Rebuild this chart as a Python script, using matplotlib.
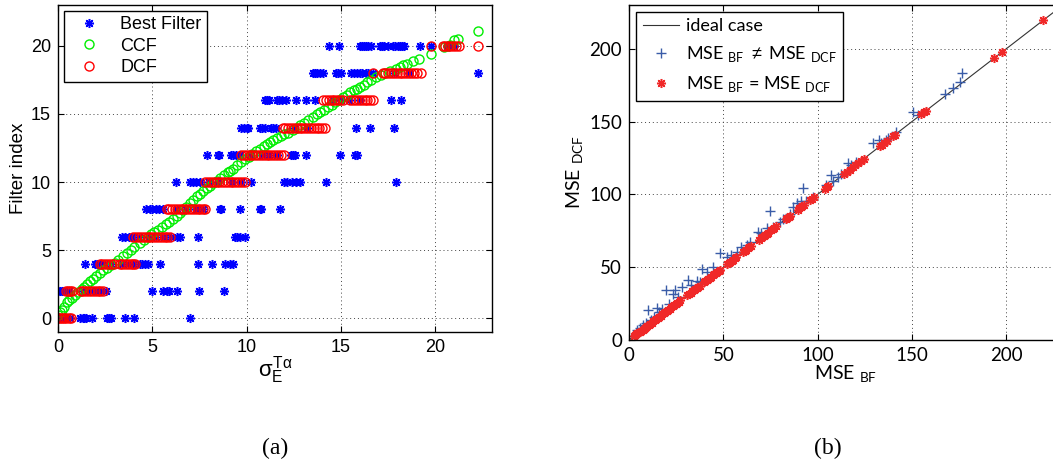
import numpy as np
import matplotlib.pyplot as plt

# ---- panel (a): filter index vs sigma ----
levels = [0, 2, 4, 6, 8, 10, 12, 14, 16, 18, 20]

best_x = {
    0: [0.05, 0.2, 0.35, 0.5, 0.65, 1.16, 1.3, 1.4, 1.5, 1.82, 2.6, 2.7, 2.8, 3.54, 4.02, 6.98],
    2: [0.0, 0.1, 0.2, 0.3, 0.6, 1.3, 1.7, 2.0, 2.3, 2.57, 4.96, 5.57, 5.75, 5.9, 6.33, 7.46, 8.8],
    4: [1.43, 1.96, 2.05, 2.15, 2.22, 2.5, 2.8, 3.4, 3.7, 4.0, 4.34, 4.45, 4.6, 4.78, 5.4,
        7.44, 8.17, 8.84, 9.1, 9.28],
    6: [3.37, 3.55, 3.75, 3.9, 4.3, 4.8, 5.2, 5.6, 6.0, 6.28, 6.46, 7.43, 9.37, 9.5, 9.62, 9.9],
    8: [4.64, 4.85, 5.0, 5.2, 5.35, 5.57, 6.3, 6.8, 7.3, 7.7, 8.57, 8.65, 9.63, 10.69, 10.75, 11.75],
    10: [6.23, 7.02, 7.15, 7.3, 7.51, 8.0, 8.5, 9.2, 9.7, 10.25, 12.0, 12.15, 12.4, 12.6, 12.8,
         14.2, 17.9],
    12: [7.87, 8.48, 8.55, 9.19, 9.3, 9.45, 9.63, 10.2, 10.8, 11.2, 11.6, 12.36, 12.45, 12.54,
         13.12, 14.96, 15.75, 15.85],
    14: [9.72, 9.85, 10.0, 10.07, 10.69, 10.8, 10.95, 11.3, 11.4, 11.57, 12.5, 13.2, 15.77,
         16.54, 17.83],
    16: [10.95, 11.05, 11.2, 11.6, 11.7, 11.85, 12.1, 12.63, 13.12, 13.6, 14.6, 15.0, 15.4,
         16.0, 17.65, 18.18],
    18: [13.51, 13.6, 13.75, 13.9, 14.04, 14.74, 14.85, 15.0, 15.54, 15.7, 15.85, 16.0, 16.1,
         16.3, 16.42, 16.68, 17.8, 18.6, 22.24],
    20: [14.34, 14.89, 15.98, 16.1, 16.2, 16.3, 16.45, 16.6, 17.04, 17.15, 17.3, 17.48, 17.74,
         17.85, 18.0, 18.1, 18.25, 18.36, 19.19, 19.77, 20.6, 20.8, 21.0],
}

dcf_x = {
    0: [0.0, 0.1, 0.2, 0.3, 0.45, 0.6, 0.7],
    2: [0.45, 0.55, 0.65, 0.72, 1.2, 1.35, 1.5, 1.65, 1.8, 1.95, 2.1, 2.25, 2.4],
    4: [2.22, 2.35, 2.5, 2.65, 2.8, 2.95, 3.28, 3.4, 3.55, 3.7, 3.85, 4.0, 4.1],
    6: [4.0, 4.15, 4.3, 4.45, 4.6, 4.75, 4.9, 5.05, 5.2, 5.35, 5.5, 5.65, 5.8, 5.95],
    8: [5.75, 5.9, 6.05, 6.2, 6.35, 6.5, 6.65, 6.8, 6.95, 7.1, 7.25, 7.4, 7.55, 7.7, 7.8],
    10: [7.78, 7.95, 8.1, 8.25, 8.4, 8.55, 8.7, 8.85, 9.0, 9.15, 9.3, 9.45, 9.6, 9.75, 9.9],
    12: [9.72, 9.85, 10.0, 10.15, 10.3, 10.45, 10.6, 10.75, 10.9, 11.05, 11.2, 11.35, 11.5,
         11.65, 11.8, 12.0],
    14: [11.92, 12.05, 12.2, 12.35, 12.5, 12.65, 12.8, 12.95, 13.1, 13.25, 13.4, 13.55, 13.7,
         13.85, 14.0, 14.13],
    16: [14.04, 14.2, 14.35, 14.5, 14.65, 14.8, 14.95, 15.1, 15.5, 15.65, 15.8, 15.95, 16.1,
         16.25, 16.4, 16.55, 16.7],
    18: [16.68, 17.2, 17.35, 17.5, 17.65, 17.8, 17.95, 18.1, 18.25, 18.4, 18.55, 18.7, 18.85,
         19.0, 19.24],
    20: [19.77, 20.39, 20.5, 20.65, 20.8, 20.95, 21.1, 21.27, 22.24],
}

ccf_x = [0.0, 0.1, 0.2, 0.3, 0.46, 0.6, 0.75, 0.9, 1.05, 1.25, 1.4, 1.55, 1.7, 1.85, 2.0,
         2.22, 2.4, 2.6, 2.8, 3.0, 3.2, 3.46, 3.65, 3.85, 4.05, 4.34, 4.55, 4.75, 4.95, 5.1,
         5.3, 5.5, 5.7, 5.9, 6.1, 6.28, 6.45, 6.6, 6.8, 7.0, 7.15, 7.34, 7.5, 7.7, 7.9, 8.05,
         8.22, 8.4, 8.6, 8.8, 9.0, 9.1, 9.28, 9.5, 9.7, 9.9, 10.1, 10.3, 10.5, 10.7, 10.9,
         11.1, 11.25, 11.4, 11.6, 11.8, 12.0, 12.2, 12.45, 12.65, 12.85, 13.05, 13.25, 13.5,
         13.7, 13.9, 14.1, 14.3, 14.5, 14.7, 14.9, 15.1, 15.3, 15.5, 15.7, 15.85, 16.0, 16.2,
         16.4, 16.6, 16.86, 17.1, 17.35, 17.6, 17.9, 18.1, 18.3, 18.5, 18.8, 19.15, 19.77,
         20.48, 20.65, 20.8, 21.0, 21.2, 22.24]
ccf_y = [0.25, 0.45, 0.65, 0.85, 1.17, 1.34, 1.53, 1.71, 1.9, 2.14, 2.33, 2.52, 2.71, 2.89,
         3.08, 3.36, 3.53, 3.72, 3.9, 4.09, 4.3, 4.57, 4.78, 5.0, 5.23, 5.55, 5.76, 5.96, 6.16,
         6.32, 6.52, 6.72, 6.92, 7.11, 7.31, 7.49, 7.72, 7.93, 8.21, 8.48, 8.69, 8.95, 9.13,
         9.35, 9.57, 9.74, 9.93, 10.11, 10.31, 10.52, 10.72, 10.82, 11.0, 11.24, 11.45, 11.67,
         11.88, 12.1, 12.28, 12.46, 12.65, 12.83, 12.96, 13.1, 13.23, 13.37, 13.5, 13.63, 13.8,
         13.99, 14.18, 14.37, 14.56, 14.8, 14.98, 15.15, 15.33, 15.5, 15.69, 15.88, 16.06,
         16.25, 16.42, 16.58, 16.75, 16.87, 17.0, 17.16, 17.33, 17.49, 17.7, 17.84, 17.98,
         18.13, 18.3, 18.43, 18.57, 18.7, 18.9, 19.05, 19.4, 19.9, 20.0, 20.1, 20.4, 20.5, 21.1]

# ---- panel (b): MSE_DCF vs MSE_BF ----
mse_equal = [2.5, 3.2, 3.8, 4.5, 5.2, 5.8, 6.5, 7.2, 7.8, 8.5, 9.2, 9.8, 10.5, 11.2, 12, 12.8,
             13.6, 14.4, 15.2, 16, 16.8, 17.6, 18.4, 19.2, 20, 20.8, 21.6, 22.4, 23.2, 24, 24.8,
             25.6, 26.4, 27.2, 31, 31.8, 32.6, 33.4, 34.2, 35, 35.8, 36.6, 37.4, 39.5, 40.3,
             41.1, 41.9, 42.7, 43.5, 44.3, 45.1, 45.9, 46.7, 47.5, 48.3, 52, 52.8, 53.6, 54.4,
             55.2, 56, 56.8, 60.5, 61.3, 62.1, 62.9, 63.7, 64.5, 69, 69.8, 70.6, 71.4, 72.2, 73,
             73.8, 75.5, 76.3, 77.1, 78, 83, 83.8, 84.6, 85.4, 89.5, 90.3, 91.1, 91.9, 92.7, 96,
             97, 98, 104, 104.8, 105.6, 114, 115.5, 117, 118.5, 120, 121.5, 123, 124.5, 133,
             134.2, 135.4, 136.6, 140, 141, 155, 156.2, 157.4, 193.5, 197.5, 219.5]

ne_bf = [4.5, 6, 7.5, 8.8, 10.2, 11.5, 13, 14.6, 16, 17.5, 19.6, 21, 23.5, 24.4, 26, 27.9, 31.4,
         33, 36, 37.6, 38.5, 41.1, 44.6, 48.2, 51.7, 54.3, 57, 59.6, 62.3, 64, 68.5, 70.2, 72.9,
         74.6, 76.4, 80, 81.7, 85.2, 87, 88.8, 91.4, 92.3, 94, 97.6, 104.6, 107.3, 108.2, 110.8,
         112.6, 116.1, 117.9, 120.5, 129.3, 132.5, 133.8, 136.4, 137.3, 141.7, 150.5, 153.2,
         167.3, 171.7, 175.2, 176.6]
ne_dcf = [7, 8.5, 10, 12, 20.6, 14, 16, 21.7, 19, 21, 34.3, 25, 31.6, 34.3, 29.5, 36.2, 41.2,
          37.8, 40.5, 40, 48.5, 46.9, 50.3, 59.5, 57.2, 58.4, 60.5, 64, 65.2, 67.5, 74.4, 73.2,
          76.7, 88.8, 77.8, 81.2, 83.2, 86.5, 91.5, 93.8, 95.7, 104.1, 95.5, 98.5, 106.4, 113.3,
          109.5, 112.1, 113.8, 121.7, 120, 122, 135, 137.3, 135.5, 137.3, 138.4, 143, 156.8,
          154.5, 168.6, 172.8, 177.3, 183.5]
ideal = [0, 230]

plt.rcParams['font.family'] = ['Liberation Sans', 'DejaVu Sans']
plt.rcParams['mathtext.fontset'] = 'custom'
plt.rcParams['mathtext.rm'] = 'Liberation Sans'
plt.rcParams['mathtext.it'] = 'Liberation Sans'

W, H = 1053, 467
fig = plt.figure(figsize=(W / 100, H / 100), dpi=100)
ax1 = fig.add_axes([58 / W, 1 - 332 / H, 434 / W, 327 / H])
ax2 = fig.add_axes([629 / W, 1 - 340 / H, 434 / W, 335 / H])

star = (8, 2, 0)

# panel (a)
bx = [x for k in levels for x in best_x[k]]
by = [k for k in levels for x in best_x[k]]
dx = [x for k in levels for x in dcf_x[k]]
dy = [k for k in levels for x in dcf_x[k]]
ax1.plot(bx, by, linestyle='none', marker=star, color='#0000ff', markersize=6.5, mew=1.1,
         label='Best Filter')
ax1.plot(ccf_x, ccf_y, linestyle='none', marker='o', mfc='none', mec='#00ee00', markersize=6.5,
         mew=1.0, label='CCF')
ax1.plot(dx, dy, linestyle='none', marker='o', mfc='none', mec='#ff0000', markersize=6.5,
         mew=1.0, label='DCF')
ax1.set_xlim(0, 23)
ax1.set_ylim(-1, 23)
ax1.set_xticks([0, 5, 10, 15, 20])
ax1.set_yticks([0, 5, 10, 15, 20])
ax1.set_xlabel(r'$\sigma_{\rm E}^{\rm T\alpha}$', fontsize=16, labelpad=-1)
ax1.set_ylabel('Filter index', fontsize=13.5, labelpad=3)
leg1 = ax1.legend(loc='upper left', bbox_to_anchor=(0.014, 0.982), borderaxespad=0,
                  fontsize=13, numpoints=1, handlelength=2.2, handletextpad=0.6,
                  labelspacing=0.25, borderpad=0.3, fancybox=False, framealpha=1,
                  edgecolor='k')
leg1.get_frame().set_linewidth(1.0)

# panel (b)
ax2.plot(ideal, ideal, color='#333333', linewidth=0.8, label='ideal case')
ax2.plot(ne_bf, ne_dcf, linestyle='none', marker='+', color='#3a5ca8', markersize=7.5, mew=1.0,
         label=r'MSE $_{\mathregular{BF}}$ $\neq$ MSE $_{\mathregular{DCF}}$')
ax2.plot(mse_equal, mse_equal, linestyle='none', marker=star, color='#f02828', markersize=6.5,
         mew=1.1, label=r'MSE $_{\mathregular{BF}}$ = MSE $_{\mathregular{DCF}}$')
ax2.set_xlim(0, 230)
ax2.set_ylim(0, 230)
ax2.set_xticks([0, 50, 100, 150, 200])
ax2.set_yticks([0, 50, 100, 150, 200])
ax2.set_xlabel(r'MSE $_{\mathregular{BF}}$', fontsize=14, labelpad=-1, family='Lato')
ax2.set_ylabel(r'MSE $_{\mathregular{DCF}}$', fontsize=14, labelpad=3, family='Lato')
leg2 = ax2.legend(loc='upper left', bbox_to_anchor=(0.017, 0.979), borderaxespad=0,
                  numpoints=1, handlelength=2.0, handletextpad=0.4,
                  labelspacing=0.55, borderpad=0.35, fancybox=False, framealpha=1,
                  edgecolor='k', prop={'family': 'Lato', 'size': 13})
leg2.get_frame().set_linewidth(1.0)

for ax, fam, ls in [(ax1, 'Liberation Sans', 13), (ax2, 'Lato', 13.5)]:
    ax.grid(True, linestyle=(0, (1, 3)), color='#444444', linewidth=0.7)
    ax.set_axisbelow(True)
    ax.tick_params(direction='in', top=True, right=True, length=4, width=0.8,
                   labelsize=ls, pad=5)
    for lab in ax.get_xticklabels() + ax.get_yticklabels():
        lab.set_family(fam)
    for s in ax.spines.values():
        s.set_linewidth(1.0)

fig.text(275 / W, 1 - 448 / H, '(a)', ha='center', va='center', fontsize=17,
         family='Liberation Serif')
fig.text(828 / W, 1 - 448 / H, '(b)', ha='center', va='center', fontsize=17,
         family='Liberation Serif')

fig.savefig('out.png', dpi=100)
